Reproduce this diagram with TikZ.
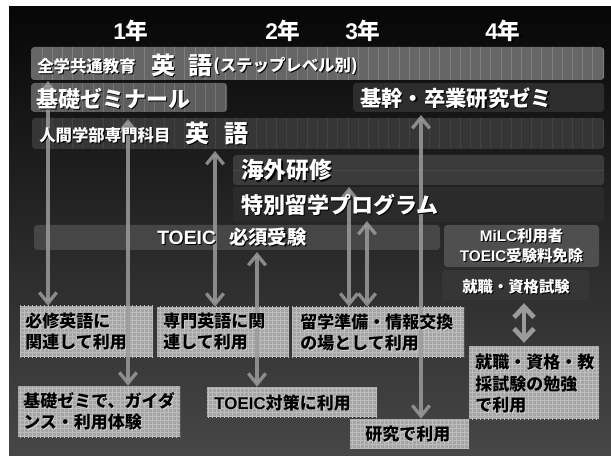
\documentclass[tikz,border=0pt]{standalone}
\usepackage{fontspec}
\newfontfamily\jp{Noto Sans CJK JP}
\newfontfamily\lat{Liberation Sans}
\usetikzlibrary{arrows.meta,patterns,fit}
\definecolor{bgtop}{HTML}{070707}
\definecolor{bgbot}{HTML}{474747}
\definecolor{cA}{HTML}{666666}
\definecolor{cAs}{HTML}{7E7E7E}
\definecolor{cB}{HTML}{5D5D5D}
\definecolor{cBs}{HTML}{737373}
\definecolor{cC}{HTML}{2D2D2D}
\definecolor{cD}{HTML}{363636}
\definecolor{cDs}{HTML}{434343}
\definecolor{cE}{HTML}{3B3B3B}
\definecolor{cEs}{HTML}{474747}
\definecolor{cF}{HTML}{2B2B2B}
\definecolor{cG}{HTML}{464646}
\definecolor{cH}{HTML}{4F4F4F}
\definecolor{cI}{HTML}{363636}
\definecolor{boxc}{HTML}{A5A5A5}
\definecolor{gridc}{HTML}{BDBDBD}
\definecolor{arrc}{HTML}{9B9B9B}
\definecolor{lsh}{HTML}{D8D8D8}
\newcommand\fsz[2]{\fontsize{#1pt}{#2pt}\selectfont}
\newcommand\wsh[1]{\leavevmode\rlap{\kern0.8pt\raisebox{-0.8pt}{\textcolor{black}{#1}}}{#1}}
\newcommand\bsh[1]{\leavevmode\rlap{\kern0.6pt\raisebox{-0.6pt}{\textcolor{lsh}{#1}}}{#1}}
\begin{document}
\begin{tikzpicture}[x=0.75pt,y=-0.75pt,
  bar/.style={rounded corners=2.5pt, inner sep=0pt, draw=none, fill=#1},
  stripe/.style={draw=#1, line width=0.7pt},
  wt/.style={text=white, inner sep=0pt, anchor=west, font=\jp\bfseries},
  bt/.style={text=black, inner sep=0pt, anchor=west, align=left, font=\jp\bfseries\fsz{12.75}{15.5}},
  ubox/.style={inner sep=0pt, draw=none, fill=boxc, postaction={pattern=grid, pattern color=gridc}},
  arr/.style={draw=arrc, opacity=0.85, line width=2.5pt, {Straight Barb[length=8pt,width=13pt]}-{Straight Barb[length=8pt,width=13pt]}},
  bigarr/.style={draw=arrc, line width=3.6pt, {Straight Barb[length=8pt,width=15pt]}-{Straight Barb[length=8pt,width=15pt]}},
  year/.style={text=white, inner sep=0pt, anchor=center, font=\bfseries\fsz{17}{20}}
]
\useasboundingbox (0,0) rectangle (611,456);
\fill[white] (0,0) rectangle (611,456);
\shade[top color=bgtop, bottom color=bgbot] (9,7) rectangle (611,456);

% year labels
\node[year] (y1) at (131,31) {\wsh{\lat 1\jp 年}};
\node[year] (y2) at (283,31) {\wsh{\lat 2\jp 年}};
\node[year] (y3) at (363,31) {\wsh{\lat 3\jp 年}};
\node[year] (y4) at (503,31) {\wsh{\lat 4\jp 年}};

% bars
\node[bar=cA, fit={(31,47) (604,80)}] (bar1) {};
\begin{scope}
  \clip[rounded corners=2.5pt] (31,47) rectangle (604,80);
  \foreach \i in {0,...,55} \draw[stripe=cAs] ({42+10.2*\i},47) -- ++(0,33);
\end{scope}
\node[bar=cB, fit={(31,83) (227,112)}] (kiso) {};
\begin{scope}
  \clip[rounded corners=2.5pt] (31,83) rectangle (227,112);
  \foreach \i in {0,...,18} \draw[stripe=cBs] ({42+10.2*\i},83) -- ++(0,29);
\end{scope}
\node[bar=cC, fit={(353,83) (604,112)}] (kikan) {};
\node[bar=cD, fit={(32,118) (604,149)}] (senmon) {};
\begin{scope}
  \clip[rounded corners=2.5pt] (32,118) rectangle (604,149);
  \foreach \i in {0,...,55} \draw[stripe=cDs] ({42+10.2*\i},118) -- ++(0,31);
\end{scope}
\node[bar=cE, fit={(233,155) (604,185)}] (kaigai) {};
\draw[cEs, line width=0.6pt] (kaigai.west) -- (kaigai.east);
\node[bar=cF, fit={(233,187) (604,222)}] (tokubetsu) {};
\node[bar=cG, fit={(34,225) (440,250)}] (toeic) {};
\node[bar=cH, fit={(444,225) (599,267)}] (milc) {};
\node[bar=cI, fit={(442,270) (589,300)}] (shu) {};

% bottom boxes
\node[ubox, fit={(20,306) (153,357)}] (bA) {};
\node[ubox, fit={(157,307) (289,357)}] (bB) {};
\node[ubox, fit={(292,307) (464,357)}] (bC) {};
\node[ubox, fit={(469,346) (599,419)}] (bD) {};
\node[ubox, fit={(18,386) (180,437)}] (bE) {};
\node[ubox, fit={(207,387) (377,417)}] (bF) {};
\node[ubox, fit={(350,419) (469,448)}] (bG) {};

% arrows
\coordinate (u1) at (48,81);
\coordinate (u2) at (128,119);
\coordinate (u3) at (215,151);
\coordinate (u4) at (257,252);
\coordinate (u5) at (349,187);
\coordinate (u6) at (367,221);
\coordinate (u7) at (421,115);
\coordinate (u8) at (524,300);
\draw[arr] (u1) -- (u1 |- bA.north);
\draw[arr] (u2) -- (u2 |- bE.north);
\draw[arr] (u3) -- (u3 |- bB.north);
\draw[arr] (u4) -- (u4 |- bF.north);
\draw[arr] (u5) -- (u5 |- bC.north);
\draw[arr] (u6) -- (u6 |- bC.north);
\draw[arr] (u7) -- (u7 |- bG.north);
\draw[bigarr, shorten <=2.2pt, shorten >=2.2pt] (shu.south -| u8) -- (bD.north -| u8);

% bar texts
\node[wt, font=\jp\bfseries\fsz{12.3}{14}] (t1a) at (37,67) {\wsh{全学共通教育}};
\node[wt, font=\jp\bfseries\fsz{18}{20}] (t1b) at (151,66) {\wsh{英}};
\node[wt, font=\jp\bfseries\fsz{18}{20}] (t1c) at (188,66) {\wsh{語}};
\node[wt, font=\jp\bfseries\fsz{12.3}{14}] (t1d) at (213,67) {\wsh{(ステップレベル別)}};
\node[wt, font=\jp\bfseries\fsz{16.5}{19}] (t2) at (36,99) {\wsh{基礎ゼミナール}};
\node[wt, font=\jp\bfseries\fsz{16}{19}] (t3) at (360,99) {\wsh{基幹・卒業研究ゼミ}};
\node[wt, font=\jp\bfseries\fsz{12.3}{14}] (t4a) at (39,136) {\wsh{人間学部専門科目}};
\node[wt, font=\jp\bfseries\fsz{18}{20}] (t4b) at (185,134) {\wsh{英}};
\node[wt, font=\jp\bfseries\fsz{18}{20}] (t4c) at (224,134) {\wsh{語}};
\node[wt, font=\jp\bfseries\fsz{17}{19}] (t5) at (241,171) {\wsh{海外研修}};
\node[wt, font=\jp\bfseries\fsz{16.5}{19}] (t6) at (241,205) {\wsh{特別留学プログラム}};
\node[wt, font=\jp\bfseries\fsz{14.5}{17}] (t7) at (157,238) {\wsh{{\lat TOEIC}}\hspace{10pt}\wsh{必須受験}};
\node[wt, anchor=center, align=center, font=\jp\bfseries\fsz{11.5}{15}] (t8) at (milc.center) {\wsh{{\lat MiLC}利用者}\\\wsh{{\lat TOEIC}受験料免除}};
\node[wt, anchor=center, font=\jp\bfseries\fsz{11.5}{14}] (t9) at (516,287) {\wsh{就職・資格試験}};

% box texts
\node[bt] (tA) at (25,332) {\bsh{必修英語に}\\\bsh{関連して利用}};
\node[bt] (tB) at (163,332) {\bsh{専門英語に関}\\\bsh{連して利用}};
\node[bt] (tC) at (300,333) {\bsh{留学準備・情報交換}\\\bsh{の場として利用}};
\node[bt, font=\jp\bfseries\fsz{12.75}{16}] (tD) at (475,384) {\bsh{就職・資格・教}\\\bsh{採試験の勉強}\\\bsh{で利用}};
\node[bt] (tE) at (23,412) {\bsh{基礎ゼミで、ガイダ}\\\bsh{ンス・利用体験}};
\node[bt] (tF) at (214,403) {\bsh{{\lat TOEIC}対策に利用}};
\node[bt] (tG) at (365,435) {\bsh{研究で利用}};
\end{tikzpicture}
\end{document}
